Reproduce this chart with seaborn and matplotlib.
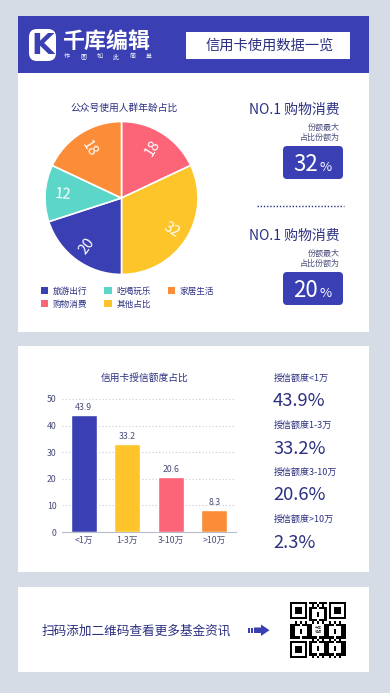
import numpy as np
import matplotlib
matplotlib.use("Agg")
import matplotlib.pyplot as plt
import seaborn as sns
from matplotlib.patches import Rectangle, FancyBboxPatch, Polygon, Patch

# ---- data ----
pie_title = "公众号使用人群年龄占比"
pie_labels = ["购物消费", "其他占比", "旅游出行", "吃喝玩乐", "家居生活"]
pie_values = [18, 32, 20, 12, 18]
legend_order = ["旅游出行", "购物消费", "吃喝玩乐", "其他占比", "家居生活"]

top_item = "NO.1 购物消费"
top_pcts = [32, 20]

bar_title = "信用卡授信额度占比"
bar_cats = ["<1万", "1-3万", "3-10万", ">10万"]
bar_values = [43.9, 33.2, 20.6, 8.3]
bar_ticks = [0, 10, 20, 30, 40, 50]

side_labels = ["授信额度<1万", "授信额度1-3万", "授信额度3-10万", "授信额度>10万"]
side_pcts = ["43.9%", "33.2%", "20.6%", "2.3%"]

slogan = "作图如此简单"

# ---- style ----
BG = "#d5dce5"
BLUE = "#3a40b4"
TEAL = "#5cd6c9"
ORANGE = "#fb8d38"
PINK = "#fc6478"
YELLOW = "#fdc52a"
NAVY = "#2b2f80"
GREY_TXT = "#4a4d7a"
pie_colors = {"购物消费": PINK, "其他占比": YELLOW, "旅游出行": BLUE,
              "吃喝玩乐": TEAL, "家居生活": ORANGE}
bar_colors = [BLUE, YELLOW, PINK, ORANGE]

sns.set_theme(style="white")
plt.rcParams["font.family"] = ["Noto Sans CJK SC", "DejaVu Sans"]

W, H = 390, 693


def frac(x, y, w, h):
    """pixel box (top-left origin) -> figure fraction"""
    return [x / W, 1 - (y + h) / H, w / W, h / H]


fig = plt.figure(figsize=(W / 100, H / 100), dpi=100)
fig.patch.set_facecolor(BG)

# background / layout layer in pixel coords
bg = fig.add_axes([0, 0, 1, 1])
bg.set_xlim(0, W)
bg.set_ylim(H, 0)
bg.axis("off")

bg.add_patch(Rectangle((18, 16), 351, 57, fc=BLUE, ec="none"))
bg.add_patch(Rectangle((18, 73), 351, 259, fc="white", ec="none"))
bg.add_patch(Rectangle((18, 346), 351, 226, fc="white", ec="none"))
bg.add_patch(Rectangle((18, 587), 351, 85, fc="white", ec="none"))

# header
bg.add_patch(FancyBboxPatch((29, 29), 27, 32, boxstyle="round,pad=0,rounding_size=8",
                            fc="white", ec="none"))
bg.text(43, 45.5, "K", color=BLUE, fontsize=21, fontweight="bold",
        family="DejaVu Sans", ha="center", va="center")
bg.text(63, 41, "千库编辑", color="white", fontsize=15.8, fontweight="bold",
        ha="left", va="center")
for k, ch in enumerate(slogan):
    bg.text(67 + k * 16.4, 56.5, ch, color="white", fontsize=4.3, ha="center", va="center")
bg.add_patch(Rectangle((186, 32), 164, 27, fc="white", ec="none"))
bg.text(270, 46, "信用卡使用数据一览", color=NAVY, fontsize=10.3, ha="center", va="center")

# pie block
bg.text(124, 108, pie_title, color=NAVY, fontsize=7, ha="center", va="center")

ax_pie = fig.add_axes(frac(45, 121.5, 153, 153))
ax_pie.set_facecolor("none")
wedges, texts = ax_pie.pie(
    pie_values, labels=[str(v) for v in pie_values],
    colors=[pie_colors[l] for l in pie_labels],
    startangle=90, counterclock=False, labeldistance=0.77, rotatelabels=True,
    wedgeprops=dict(edgecolor="white", linewidth=1.2),
    textprops=dict(color="white", fontsize=10.5),
)
for t in texts:
    t.set_ha("center")
    t.set_va("center")
ax_pie.set_xlim(-1, 1)
ax_pie.set_ylim(-1, 1)

handles = [Patch(fc=pie_colors[l], ec="none") for l in legend_order]
fig.legend(handles, legend_order, ncol=3, loc="upper left",
           bbox_to_anchor=(41 / W, 1 - 286.5 / H), frameon=False, fontsize=6.2,
           labelcolor=NAVY, handlelength=0.85, handleheight=0.85,
           handletextpad=0.55, columnspacing=1.95, labelspacing=0.5,
           borderpad=0, borderaxespad=0)

# highlight numbers
for pct, y0 in zip(top_pcts, [110, 236]):
    bg.text(340, y0, top_item, color=NAVY, fontsize=10, ha="right", va="center")
    bg.text(340, y0 + 17, "份额最大", color=GREY_TXT, fontsize=5.8, ha="right", va="center")
    bg.text(340, y0 + 27.5, "占比份额为", color=GREY_TXT, fontsize=5.8, ha="right", va="center")
    bg.add_patch(FancyBboxPatch((283, y0 + 36), 60, 33, boxstyle="round,pad=0,rounding_size=4",
                                fc=BLUE, ec="none"))
    bg.text(318, y0 + 61, str(pct), color="white", fontsize=16, ha="right", va="baseline")
    bg.text(319.5, y0 + 61, "%", color="white", fontsize=9.5, ha="left", va="baseline")
bg.plot([257, 344], [206, 206], color=NAVY, lw=1, linestyle=(0, (1, 1.3)))

# bar block
bg.text(145, 378, bar_title, color=NAVY, fontsize=7, ha="center", va="center")

ax_bar = fig.add_axes(frac(62, 399, 174, 133))
ax_bar.set_facecolor("none")
sns.barplot(x=bar_cats, y=bar_values, hue=bar_cats, palette=bar_colors,
            width=0.59, legend=False, saturation=1, ax=ax_bar)
ax_bar.set_ylim(0, 50)
ax_bar.set_xlim(-0.5, 3.5)
ax_bar.set_yticks(bar_ticks)
ax_bar.yaxis.grid(True, color="#c9ccd6", linestyle=(0, (1, 2)), lw=0.8)
ax_bar.set_axisbelow(True)
for s in ["top", "right", "left"]:
    ax_bar.spines[s].set_visible(False)
ax_bar.spines["bottom"].set_color("#b8bccb")
ax_bar.spines["bottom"].set_linewidth(0.8)
ax_bar.tick_params(axis="both", length=0, labelsize=6.3, labelcolor=GREY_TXT)
ax_bar.tick_params(axis="y", pad=4)
ax_bar.tick_params(axis="x", pad=3)
for c in ax_bar.containers:
    ax_bar.bar_label(c, fmt="%.1f", padding=2, fontsize=6.3, color=GREY_TXT)

for i, (lab, pct) in enumerate(zip(side_labels, side_pcts)):
    y0 = 378.5 + i * 47
    bg.text(274, y0, lab, color=NAVY, fontsize=6.5, ha="left", va="center")
    bg.text(273, y0 + 23, pct, color=NAVY, fontsize=13.2, ha="left", va="center")

# footer
bg.text(42, 631, "扫码添加二维码查看更多基金资讯", color=NAVY, fontsize=9.1,
        ha="left", va="center")
bg.add_patch(Rectangle((247.5, 627.5), 2, 5.5, fc=BLUE, ec="none"))
bg.add_patch(Rectangle((250.7, 627.5), 2, 5.5, fc=BLUE, ec="none"))
bg.add_patch(Polygon([(254, 627.5), (261, 627.5), (261, 624.5), (269.5, 630.2),
                      (261, 636), (261, 633), (254, 633)], closed=True, fc=BLUE, ec="none"))

# qr-like decoration
n = 23
ii, jj = np.meshgrid(np.arange(n), np.arange(n), indexing="ij")
qr = (((ii * ii * 3 + jj * jj * 5 + ii * jj * 7 + ii + 2 * jj) % 7) < 4).astype(float)
for r0, c0 in [(0, 0), (0, n - 7), (n - 7, 0)]:
    qr[max(r0 - 1, 0):r0 + 8, max(c0 - 1, 0):c0 + 8] = 0
    qr[r0:r0 + 7, c0:c0 + 7] = 1
    qr[r0 + 1:r0 + 6, c0 + 1:c0 + 6] = 0
    qr[r0 + 2:r0 + 5, c0 + 2:c0 + 5] = 1
qr[9:14, 9:14] = 0
bg.imshow(qr, cmap="gray_r", extent=(290, 346, 658, 602), interpolation="nearest",
          aspect="auto", zorder=2)
bg.text(318, 630, "千库\n编辑", fontsize=2.5, ha="center", va="center", color="#333333",
        zorder=3, linespacing=1.1)
bg.set_xlim(0, W)
bg.set_ylim(H, 0)

fig.savefig("out.png", dpi=100, facecolor=BG)
